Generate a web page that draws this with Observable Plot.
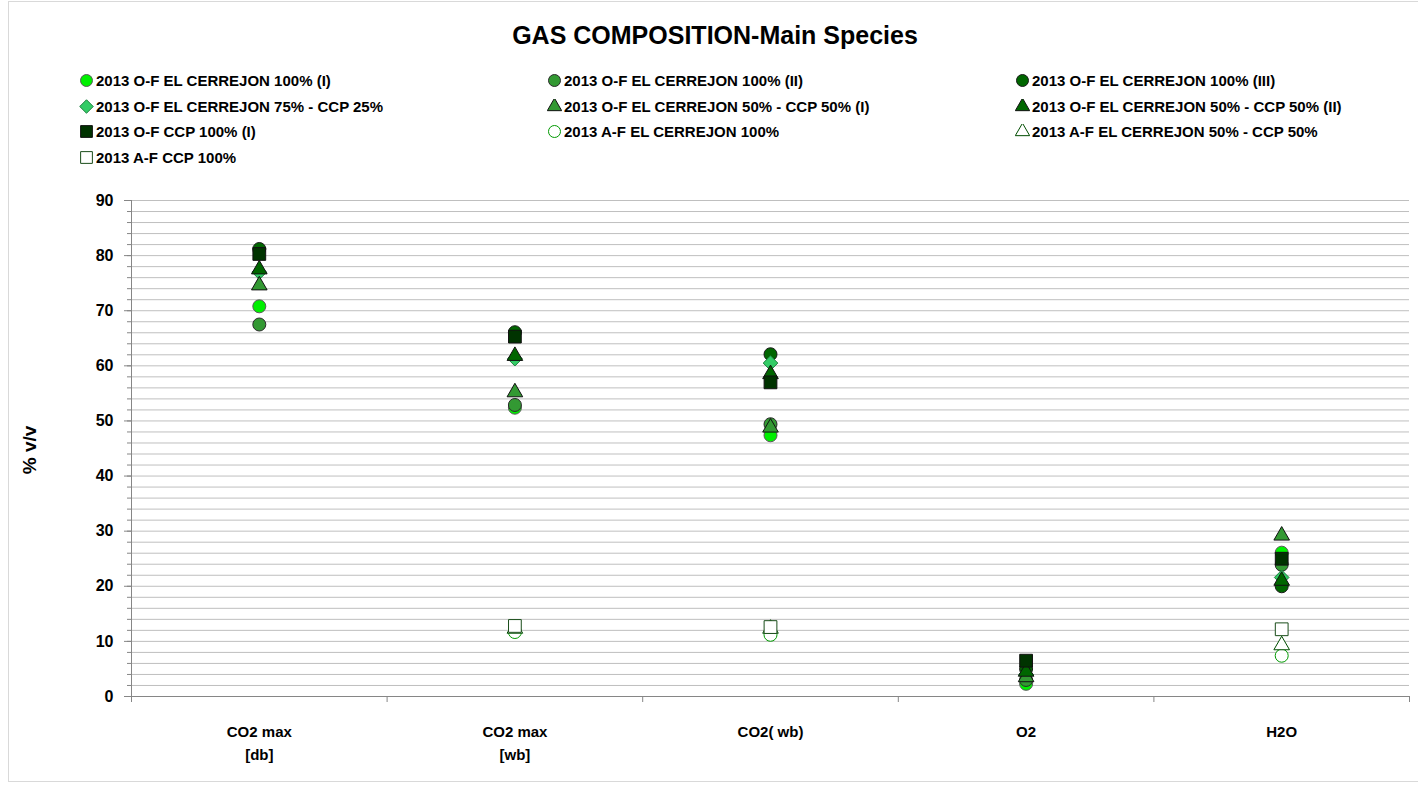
<!DOCTYPE html>
<html>
<head>
<meta charset="utf-8">
<script src="https://cdn.jsdelivr.net/npm/d3@7"></script>
<script src="https://cdn.jsdelivr.net/npm/@observablehq/plot@0.6"></script>
<style>
  html, body { margin: 0; padding: 0; background: #fff; }
  body { width: 1418px; height: 785px; position: relative; overflow: hidden;
         font-family: "Liberation Sans", Arial, sans-serif; font-weight: bold; color: #000; }
  #frame { position: absolute; left: 8px; top: 1px; width: 1420px; height: 781px; border: 1px solid #d9d9d9; box-sizing: border-box; }
  #title { position: absolute; left: 0; width: 1430px; top: 21px; text-align: center; font-size: 25px; }
  .leg { position: absolute; display: flex; align-items: center; font-size: 15px; white-space: nowrap; height: 20px; }
  .leg svg { margin-right: 2px; }
  #chart { position: absolute; left: 0; top: 170px; }
  #ylab { position: absolute; left: 30px; top: 450px; transform: translate(-50%, -50%) rotate(-90deg); font-size: 19px; white-space: nowrap; }
</style>
</head>
<body>
<div id="frame"></div>
<div id="title">GAS COMPOSITION-Main Species</div>
<div id="legend"></div>
<div id="ylab">% v/v</div>
<div id="chart"></div>
<script>
const categories = ["CO2 max\n[db]", "CO2 max\n[wb]", "CO2( wb)", "O2", "H2O"];

const seriesNames = [
  "2013 O-F EL CERREJON 100% (I)",
  "2013 O-F EL CERREJON 100% (II)",
  "2013 O-F EL CERREJON 100% (III)",
  "2013 O-F EL CERREJON 75% - CCP 25%",
  "2013 O-F EL CERREJON 50% - CCP 50% (I)",
  "2013 O-F EL CERREJON 50% - CCP 50% (II)",
  "2013 O-F CCP 100% (I)",
  "2013 A-F EL CERREJON 100%",
  "2013 A-F EL CERREJON 50% - CCP 50%",
  "2013 A-F CCP 100%"
];

const ofCerrejon100I   = [70.8, 52.4, 47.4, 2.3, 26.1];
const ofCerrejon100II  = [67.5, 52.9, 49.4, 3.0, 23.9];
const ofCerrejon100III = [81.2, 66.1, 62.1, 5.0, 20.0];
const ofCer75Ccp25     = [77.0, 61.3, 60.5, 4.0, 21.6];
const ofCer50Ccp50I    = [74.6, 55.2, 48.8, 3.5, 29.2];
const ofCer50Ccp50II   = [77.5, 61.8, 58.5, 4.5, 21.0];
const ofCcp100I        = [80.3, 65.3, 57.0, 6.5, 25.0];
const afCerrejon100    = [null, 11.7, 11.2, null, 7.4];
const afCer50Ccp50     = [null, 12.3, 12.3, null, 9.3];
const afCcp100         = [null, 12.8, 12.6, null, 12.2];

const seriesValues = [ofCerrejon100I, ofCerrejon100II, ofCerrejon100III, ofCer75Ccp25,
  ofCer50Ccp50I, ofCer50Ccp50II, ofCcp100I, afCerrejon100, afCer50Ccp50, afCcp100];

const seriesStyle = [
  {symbol: "circle",   fill: "#00f000", stroke: "#5a5a5a", r: 6.5},
  {symbol: "circle",   fill: "#339933", stroke: "#2a2a2a", r: 6.5},
  {symbol: "circle",   fill: "#006600", stroke: "#1a1a1a", r: 6.5},
  {symbol: "diamond2", fill: "#33cc66", stroke: "#1f7f3f", r: 6.6},
  {symbol: "triangle", fill: "#339933", stroke: "#111111", r: 5.8},
  {symbol: "triangle", fill: "#006600", stroke: "#111111", r: 5.8},
  {symbol: "square",   fill: "#003300", stroke: "#111111", r: 7.2},
  {symbol: "circle",   fill: "#ffffff", stroke: "#009900", r: 6.5},
  {symbol: "triangle", fill: "#ffffff", stroke: "#004d00", r: 5.8},
  {symbol: "square",   fill: "#ffffff", stroke: "#1a4d1a", r: 7.2}
];

// legend
const legendCols = [79, 547, 1015];
const legendRows = [70, 96, 121, 147];
const legend = document.getElementById("legend");
seriesNames.forEach((name, i) => {
  const st = seriesStyle[i];
  const div = document.createElement("div");
  div.className = "leg";
  div.style.left = legendCols[i % 3] + "px";
  div.style.top = legendRows[Math.floor(i / 3)] + "px";
  const sym = {circle: d3.symbolCircle, diamond2: d3.symbolDiamond2, triangle: d3.symbolTriangle, square: d3.symbolSquare}[st.symbol];
  const size = Math.PI * st.r * st.r * 0.85;
  const path = d3.symbol(sym, size)();
  div.innerHTML = `<svg width="15" height="15" viewBox="-7.5 -7.5 15 15"><path d="${path}" fill="${st.fill}" stroke="${st.stroke}" stroke-width="1"/></svg><span>${name}</span>`;
  legend.appendChild(div);
});

const marks = [
  Plot.ruleY(d3.range(2, 91, 2), {stroke: "#bfbfbf", strokeWidth: 1}),
  Plot.axisY({ticks: d3.range(0, 91, 2), tickSize: 4, text: null, stroke: "#868686", label: null}),
  Plot.axisY({ticks: d3.range(0, 91, 10), tickSize: 7, tickPadding: 11, fontSize: 16, fontWeight: "bold", stroke: "#868686", label: null,
    fill: "#000"}),
  Plot.axisX({ticks: d3.range(0, categories.length + 1), tickSize: 6, text: null, stroke: "#868686", label: null}),
  Plot.ruleY([0], {stroke: "#868686"}),
  Plot.ruleX([0], {stroke: "#868686"}),
  Plot.text(categories, {x: (d, i) => i + 0.5, y: () => 0, text: d => d, dy: 24, lineAnchor: "top",
    lineHeight: 1.55, fontSize: 15, fontWeight: "bold", fill: "#000"})
];

seriesValues.forEach((vals, s) => {
  const st = seriesStyle[s];
  const data = vals.map((v, i) => ({x: i + 0.5, y: v})).filter(d => d.y != null);
  marks.push(Plot.dot(data, {x: "x", y: "y", symbol: () => st.symbol, r: st.r, fill: st.fill, stroke: st.stroke, strokeWidth: 1}));
});

const chart = Plot.plot({
  width: 1418,
  height: 615,
  marginTop: 30,
  marginBottom: 89,
  marginLeft: 131,
  marginRight: 9,
  style: {fontFamily: "Liberation Sans, Arial, sans-serif", background: "transparent"},
  x: {domain: [0, categories.length], axis: null},
  y: {domain: [0, 90], axis: null},
  symbol: {type: "identity"},
  marks
});
document.getElementById("chart").appendChild(chart);
</script>
</body>
</html>
